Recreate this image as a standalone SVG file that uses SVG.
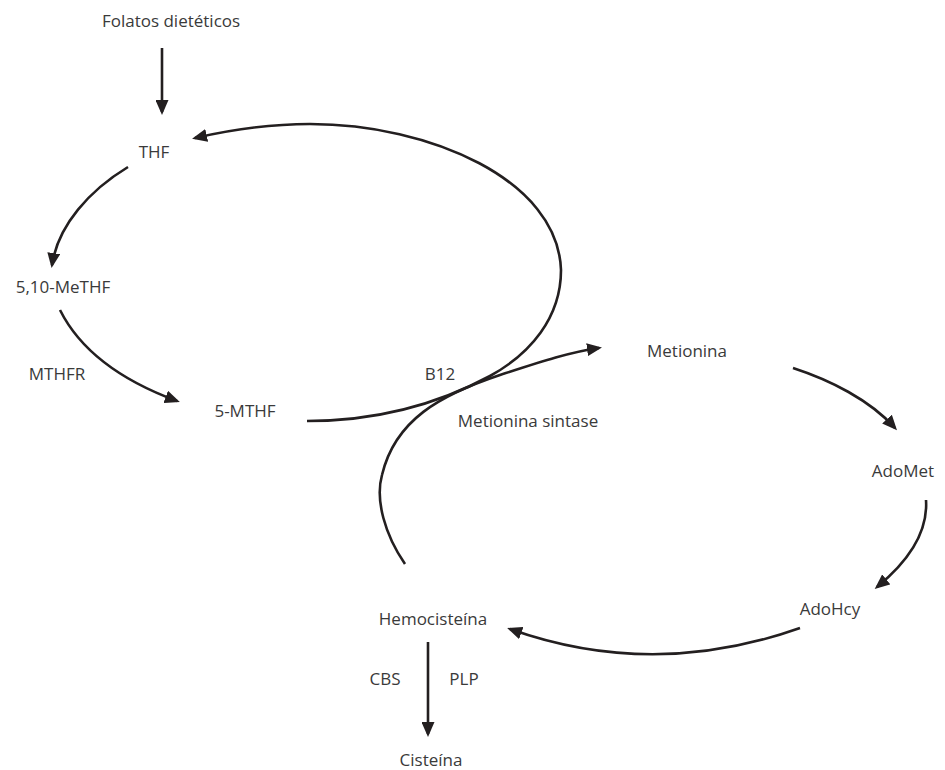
<svg xmlns="http://www.w3.org/2000/svg" width="945" height="770" viewBox="0 0 945 770">
<style>
.t{font-family:"Open Sans","Noto Sans",sans-serif;font-size:17px;fill:#3a3a3a}
.c{fill:none;stroke:#231f20;stroke-width:2.6;marker-end:url(#ah)}
.n{fill:none;stroke:#231f20;stroke-width:2.6}
</style>
<defs>
<marker id="ah" markerUnits="userSpaceOnUse" markerWidth="15" markerHeight="13" viewBox="0 0 15 13" refX="12" refY="6.5" orient="auto">
<path d="M0,0 L15,6.5 L0,13 z" fill="#231f20"/>
</marker>
</defs>
<rect width="945" height="770" fill="#fff"/>
<g id="connectors">
<path class="c" d="M162,48 L162,112"/>
<path class="c" d="M307,421 C380,421 440,403 490,376 C530,354 561,318 561,270 C558,180 430,124 310,124 C270,124 230,130 195,138"/>
<path class="c" d="M128,167 C90,190 58,225 52,265"/>
<path class="c" d="M60,310 C80,350 120,380 177,401"/>
<path class="c" d="M405,564 C385,535 375,500 382,475 C395,420 440,395 500,375 C540,362 570,352 599,348"/>
<path class="c" d="M793,368 C830,380 870,400 895,428"/>
<path class="c" d="M926,500 C928,530 910,560 877,587"/>
<path class="c" d="M800,628 Q653,680 510,629"/>
<path class="c" d="M428,642 L428,734"/>
</g>
<g id="folatos"><text class="t" x="171" y="27" text-anchor="middle">Folatos dietéticos</text></g>
<g id="thf"><text class="t" x="154" y="158" text-anchor="middle">THF</text></g>
<g id="metf"><text class="t" x="63" y="293" text-anchor="middle">5,10-MeTHF</text></g>
<g id="mthfr"><text class="t" x="57" y="380" text-anchor="middle">MTHFR</text></g>
<g id="mthf"><text class="t" x="245" y="417" text-anchor="middle">5-MTHF</text></g>
<g id="b12"><text class="t" x="440" y="380" text-anchor="middle">B12</text></g>
<g id="sintase"><text class="t" x="528" y="427" text-anchor="middle">Metionina sintase</text></g>
<g id="metionina"><text class="t" x="687" y="357" text-anchor="middle">Metionina</text></g>
<g id="adomet"><text class="t" x="903" y="477" text-anchor="middle">AdoMet</text></g>
<g id="adohcy"><text class="t" x="830" y="615" text-anchor="middle">AdoHcy</text></g>
<g id="hemocisteina"><text class="t" x="433" y="625" text-anchor="middle">Hemocisteína</text></g>
<g id="cbs"><text class="t" x="385" y="685" text-anchor="middle">CBS</text></g>
<g id="plp"><text class="t" x="464" y="685" text-anchor="middle">PLP</text></g>
<g id="cisteina"><text class="t" x="431" y="766" text-anchor="middle">Cisteína</text></g>
</svg>
